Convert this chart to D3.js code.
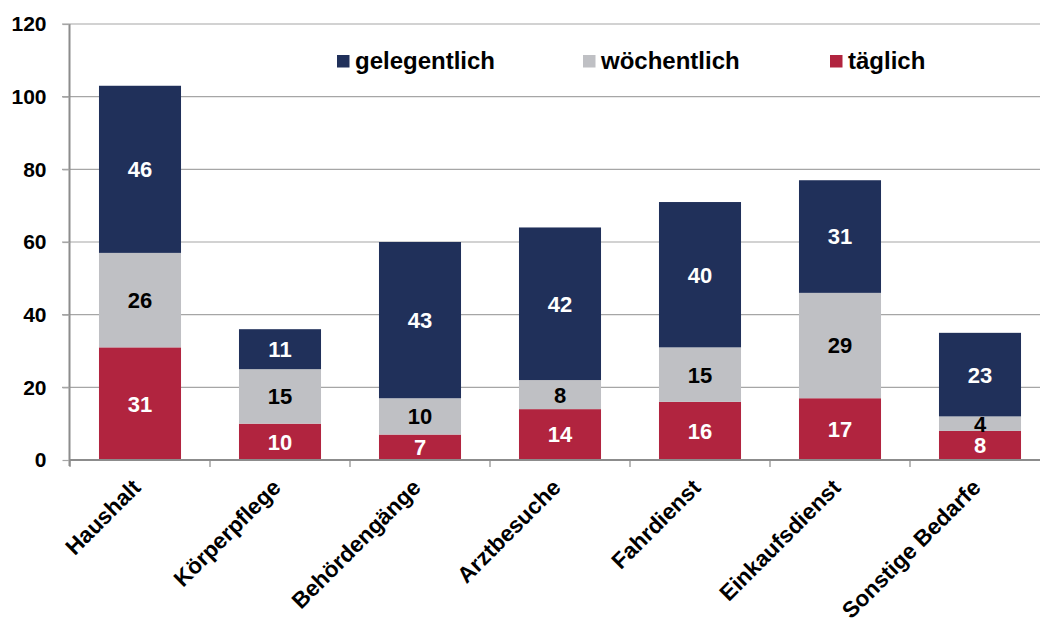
<!DOCTYPE html>
<html><head><meta charset="utf-8">
<script src="https://cdn.jsdelivr.net/npm/d3@7"></script>
<style>body{margin:0;background:#fff}svg{display:block}text{font-family:"Liberation Sans",Arial,sans-serif;font-weight:bold}</style>
</head><body><svg id="c" width="1040" height="625"></svg>
<script>
const categories = ["Haushalt","Körperpflege","Behördengänge","Arztbesuche","Fahrdienst","Einkaufsdienst","Sonstige Bedarfe"];
const taeglich    = [31,10,7,14,16,17,8];
const woechentlich= [26,15,10,8,15,29,4];
const gelegentlich= [46,11,43,42,40,31,23];
const seriesNames = ["täglich","wöchentlich","gelegentlich"];
const legendOrder = ["gelegentlich","wöchentlich","täglich"];
const yTicks = [0,20,40,60,80,100,120];
const colors = {"täglich":"#b1243f","wöchentlich":"#bfc0c4","gelegentlich":"#20305a"};
const labelColors = {"täglich":"#fff","wöchentlich":"#000","gelegentlich":"#fff"};

const svg = d3.select("#c");
const x0 = 70, x1 = 1050, yTop = 24, yBot = 460;
const x = d3.scaleBand().domain(categories).range([x0,x1]).paddingInner(0.414).paddingOuter(0.207);
const y = d3.scaleLinear().domain([0,120]).range([yBot,yTop]);

const rows = categories.map((c,i)=>({cat:c,"täglich":taeglich[i],"wöchentlich":woechentlich[i],"gelegentlich":gelegentlich[i]}));
const stacked = d3.stack().keys(seriesNames)(rows);

// gridlines
svg.append("g").selectAll("line").data(yTicks.filter(d=>d>0)).join("line")
  .attr("x1",62).attr("x2",1040).attr("y1",d=>y(d)).attr("y2",d=>y(d))
  .attr("stroke","#a6a6a6").attr("stroke-width",1.2);

// bars
const g = svg.append("g");
stacked.forEach(s=>{
  g.append("g").selectAll("rect").data(s).join("rect")
    .attr("x",d=>x(d.data.cat)).attr("width",x.bandwidth())
    .attr("y",d=>y(d[1])).attr("height",d=>y(d[0])-y(d[1]))
    .attr("fill",colors[s.key]);
  g.append("g").selectAll("text").data(s).join("text")
    .attr("x",d=>x(d.data.cat)+x.bandwidth()/2)
    .attr("y",d=>(y(d[0])+y(d[1]))/2)
    .attr("dy","0.36em").attr("text-anchor","middle")
    .attr("font-size",22).attr("fill",labelColors[s.key])
    .text(d=>d[1]-d[0]);
});

// y axis
const ya = svg.append("g").attr("transform",`translate(${x0-0.5},0)`)
  .call(d3.axisLeft(y).tickValues(yTicks).tickSize(7).tickPadding(16));
ya.select(".domain").attr("stroke","#8c8c8c").attr("stroke-width",2).attr("d",`M0,${yTop}V${yBot+6}`);
ya.selectAll(".tick line").attr("stroke","#a6a6a6").attr("stroke-width",1.2);
ya.selectAll(".tick text").attr("font-size",21).attr("fill","#000").attr("font-family","Liberation Sans, Arial, sans-serif").attr("font-weight","bold");

// x axis
const bounds = d3.range(categories.length+1).map(i=>x0+i*x.step());
const xa = svg.append("g");
xa.append("line").attr("x1",x0-1).attr("x2",1040).attr("y1",yBot).attr("y2",yBot).attr("stroke","#8c8c8c").attr("stroke-width",2);
xa.selectAll("line.t").data(bounds).join("line").attr("class","t")
  .attr("x1",d=>d).attr("x2",d=>d).attr("y1",yBot).attr("y2",yBot+7).attr("stroke","#8c8c8c").attr("stroke-width",1.2);
xa.selectAll("text").data(categories).join("text")
  .attr("transform",d=>`translate(${x(d)+x.bandwidth()/2+2},${yBot+29}) rotate(-45)`)
  .attr("text-anchor","end").attr("font-size",22.5).attr("fill","#000").text(d=>d);

// legend
const legX = [337,583,830];
const lg = svg.append("g");
legendOrder.forEach((k,i)=>{
  lg.append("rect").attr("x",legX[i]).attr("y",55).attr("width",12.5).attr("height",12.5).attr("fill",colors[k]);
  lg.append("text").attr("x",legX[i]+18).attr("y",68.5).attr("font-size",24).attr("fill","#000").text(k);
});
</script></body></html>
